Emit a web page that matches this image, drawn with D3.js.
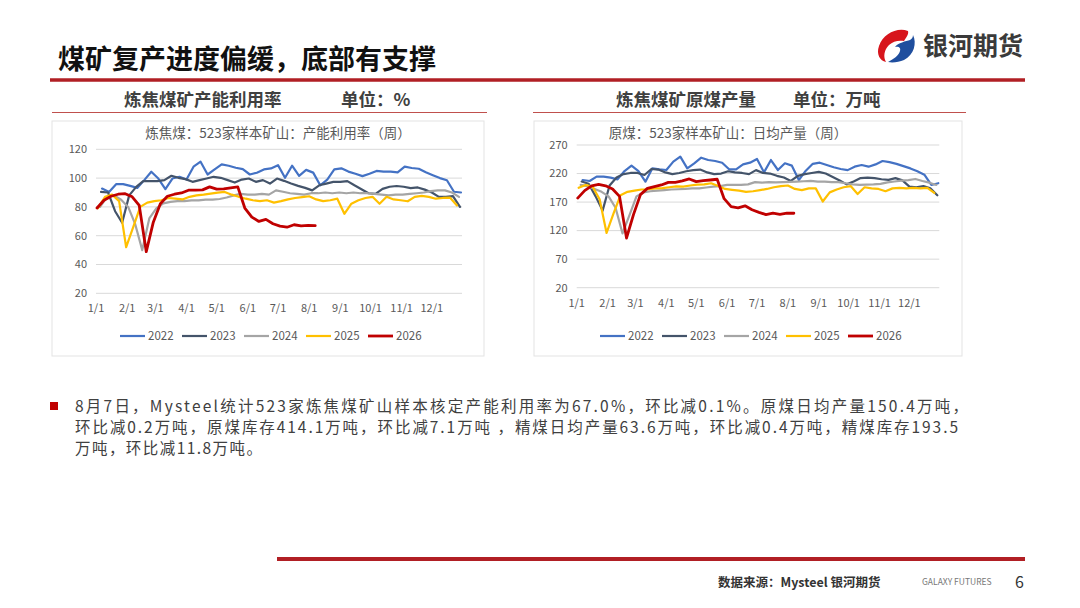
<!DOCTYPE html>
<html>
<head>
<meta charset="utf-8">
<script src="https://cdn.jsdelivr.net/npm/d3@7"></script>
<style>
  body { margin: 0; background: #fff; }
  svg { display: block; font-family: "Noto Sans CJK SC", "Noto Sans", sans-serif; }
</style>
</head>
<body>
<script>
// weekly data, one point per Friday, drawn on a common Jan-Dec axis
var years = ["2022", "2023", "2024", "2025", "2026"];
var firstFriday = ["2022-01-07", "2023-01-06", "2024-01-05", "2025-01-03", "2026-01-02"];
var months = ["1/1","2/1","3/1","4/1","5/1","6/1","7/1","8/1","9/1","10/1","11/1","12/1"];

// 产能利用率 (%)
var util2022 = [92.7,90.4,95.8,95.8,94.6,93.2,98.6,104.4,99.7,92.3,99.7,100.9,99,107.9,111.4,102.5,106,109.5,108.6,107.2,106.2,102.5,103.7,106,106.7,109,100.2,108.6,101.6,105.7,103.8,95,99,106,106.8,104.5,103,101.4,103,105,104.5,104.5,104,108,107,106.5,104,102,100,98.5,90.5,90];
var util2023 = [90.4,90,77,69,88,93.9,97.9,97.9,97.9,98.6,101.6,100.2,99.3,97.4,98.6,99.7,100.9,100.2,98.6,96.9,99,99.7,97.4,98.6,96.2,99.7,98.1,96.2,94.6,93.2,91.5,95,96.2,97.4,97.4,97.9,95,92.3,89.5,89,92.5,94,94.5,94,93,93.5,92,90,87,87,87.5,80];
var util2024 = [80,87,88,85,80,68,50,72,79,82.5,83.5,84,84,84.5,84.5,85,85,85.5,86.5,88,89,88.5,88.5,89,88.5,91.5,90.5,89.5,89,88.5,89.5,89.5,90,89.5,90,89.5,90,89.5,89.5,89,88.5,88,88.5,88.5,89,89.5,90,91,91.5,91.5,90,87];
var util2025 = [79.2,87,88.5,84,52,66,80,83,84,84.6,86.2,85.7,85.2,87,88,88.5,89.2,89.9,90.4,88.5,87,85.7,84.6,84,84.6,83,84,85.2,86.2,86.8,87.4,85.2,84,84.6,85.7,75.2,82.2,84.6,86.2,87,82.2,87,85.2,84.6,83.9,87,87.6,87,85.7,86.2,86.5,81];
var util2026 = [79.2,84.6,87.4,88.8,89.2,87,81,48.9,69.4,82.2,87.4,88.8,89.7,91.6,91.6,91.8,93.9,92.3,92.5,93.2,93.9,79.2,72.9,69.9,71.3,68.3,66.6,65.9,67.6,66.8,67.1,67.0];

// 原煤日均产量 (万吨)
var coal2022 = [208.7,206.9,214.5,214.5,212.8,209.8,224.4,233.8,224.4,205.7,229.1,227.4,226.2,240.8,249.6,229.1,237.9,247.8,243.7,242,239,227.4,227.4,236.1,239,245.5,222.1,243.7,226.2,237.9,233.8,208.7,225,237,239,235,231,228,226,232,235,232,236,242,240,237,233,229,224,218,200,203];
var coal2023 = [206,202,180,155,199,213,219,221,221,217.5,228,227,222,219,221,224,226,227,222,219,220,224,222,221,219,226,221,220,216,213,207,216,219,221,223,220,214,208,201,206,212,213,212,210,209,212,208,197,196,198,194,182];
var coal2024 = [200,198,193,188,180,160,115,147,180,187,189,190,191,192,192.5,193,194,194,195.5,197,198,200,200,200,201,205,204,205,204.5,205,205.5,206,206.5,207,206,206,205,205,203,201,200,200.5,201,202,204.5,206,207.5,208.5,210.5,207,204,200];
var coal2025 = [195,200,197,175,116,150,182,188,190,192,192.5,194,194.5,196,197.5,197,199,200.5,201,203,198,193,191.5,190,188,189,191,193,196,198,199,193,191,194,194,171,187,192,196,198,184,196,194,193,189,194,195,194,195,194,195,186];
var coal2026 = [177,190,198.5,201,198.5,193,180,107,148,183,194,197,200,204.5,204.6,207,210.5,205.8,207.5,208.7,210,176,162,160,163.5,156.5,152,148,150.5,148.6,150.6,150.4];

var utilTicks = [20, 40, 60, 80, 100, 120];
var coalTicks = [20, 70, 120, 170, 220, 270];

var colors = ["#4472C4", "#44546A", "#A5A5A5", "#FFC000", "#C00000"];
var widths = [2.2, 2.2, 2.2, 2.2, 2.8];

var W = 1080, H = 608;
var svg = d3.select("body").append("svg").attr("width", W).attr("height", H);
svg.append("rect").attr("width", W).attr("height", H).attr("fill", "#fff");

// ---- header
svg.append("text").attr("x", 58).attr("y", 69)
  .attr("font-size", 27).attr("font-weight", 700).attr("fill", "#111")
  .text("煤矿复产进度偏缓，底部有支撑");
svg.append("line").attr("x1", 50).attr("x2", 1025).attr("y1", 80).attr("y2", 80)
  .attr("stroke", "#B11F24").attr("stroke-width", 3.5);

// logo
var logo = svg.append("g").attr("transform", "translate(877,28)");
logo.append("path").attr("fill", "#D7151C")
  .attr("d", "M31,3 C20,-1 6,6 2,18 C-1,26 3,33 9,34 C6,29 7,22 12,17 C16,13 22,12 27,13 C29,10 32,6 31,3 Z");
logo.append("path").attr("fill", "#1F4E9E")
  .attr("d", "M36,7 C40,15 37,27 27,32 C22,34 16,35 11,34 C17,31 22,27 23,23 C24,20 22,18 18,19 C21,15 29,13 33,12 C35,11 36,9 36,7 Z");
svg.append("text").attr("x", 923).attr("y", 55)
  .attr("font-size", 25).attr("font-weight", 700).attr("fill", "#3a3a3a")
  .text("银河期货");

// sub titles
function subTitle(x1, x2, a, ax, b, bx) {
  svg.append("text").attr("x", ax).attr("y", 106).attr("font-size", 17.5)
    .attr("font-weight", 700).attr("fill", "#404040").text(a);
  svg.append("text").attr("x", bx).attr("y", 106).attr("font-size", 17.5)
    .attr("font-weight", 700).attr("fill", "#404040").text(b);
  svg.append("line").attr("x1", x1).attr("x2", x2).attr("y1", 112.5).attr("y2", 112.5)
    .attr("stroke", "#C0504D").attr("stroke-width", 1.2);
}
subTitle(52, 487, "炼焦煤矿产能利用率", 124, "单位：%", 341);
subTitle(533, 966, "炼焦煤矿原煤产量", 616, "单位：万吨", 793);

// ---- charts
var parseDay = d3.timeParse("%Y-%m-%d");
var base = new Date(2026, 0, 1);

function drawChart(cfg) {
  var g = svg.append("g");
  g.append("rect").attr("x", cfg.box[0]).attr("y", cfg.box[1])
    .attr("width", cfg.box[2] - cfg.box[0]).attr("height", cfg.box[3] - cfg.box[1])
    .attr("fill", "#fff").attr("stroke", "#e3e3e3").attr("stroke-width", 1);

  var x = d3.scaleTime().domain([base, new Date(2026, 11, 31)]).range([cfg.left, cfg.right]);
  var y = d3.scaleLinear().domain(d3.extent(cfg.ticks)).range([cfg.bottom, cfg.top]);

  g.append("text").attr("x", cfg.titleX).attr("y", 133).attr("dy", "0.35em")
    .attr("text-anchor", "middle").attr("font-size", 13.5).attr("fill", "#595959")
    .text(cfg.title);

  g.selectAll(".grid").data(cfg.ticks).join("line")
    .attr("x1", cfg.left).attr("x2", cfg.right)
    .attr("y1", function(d){ return y(d); }).attr("y2", function(d){ return y(d); })
    .attr("stroke", "#d9d9d9").attr("stroke-width", 1);

  g.selectAll(".yl").data(cfg.ticks).join("text")
    .attr("x", cfg.left - 9).attr("y", function(d){ return y(d); }).attr("dy", "0.35em")
    .attr("text-anchor", "end").attr("font-size", 11).attr("fill", "#595959")
    .text(function(d){ return d; });

  g.selectAll(".xl").data(months).join("text")
    .attr("x", function(d, i){ return x(new Date(2026, i, 1)); })
    .attr("y", cfg.bottom + 15).attr("dy", "0.35em")
    .attr("text-anchor", "middle").attr("font-size", 11).attr("fill", "#595959")
    .text(function(d){ return d; });

  var line = d3.line()
    .x(function(d){ return x(d.date); })
    .y(function(d){ return y(d.v); });

  cfg.series.forEach(function(vals, s) {
    var f = parseDay(firstFriday[s]);
    var doy = d3.timeDay.count(d3.timeYear(f), f);
    var pts = vals.map(function(v, k){ return { date: d3.timeDay.offset(base, doy + 7 * k), v: v }; });
    g.append("path").datum(pts).attr("d", line)
      .attr("fill", "none").attr("stroke", colors[s]).attr("stroke-width", widths[s])
      .attr("stroke-linejoin", "round").attr("stroke-linecap", "round");
  });

  // legend
  years.forEach(function(yr, s) {
    var lx = cfg.legendX + s * 62;
    g.append("line").attr("x1", lx).attr("x2", lx + 25)
      .attr("y1", cfg.legendY).attr("y2", cfg.legendY)
      .attr("stroke", colors[s]).attr("stroke-width", widths[s]);
    g.append("text").attr("x", lx + 28).attr("y", cfg.legendY).attr("dy", "0.35em")
      .attr("font-size", 11.5).attr("fill", "#595959").text(yr);
  });
}

drawChart({
  box: [52, 121, 484, 356], left: 96, right: 462, top: 149.3, bottom: 293.3,
  ticks: utilTicks, title: "炼焦煤：523家样本矿山：产能利用率（周）", titleX: 278,
  series: [util2022, util2023, util2024, util2025, util2026],
  legendX: 120, legendY: 336
});
drawChart({
  box: [534, 121, 962, 356], left: 576.7, right: 939.3, top: 145, bottom: 287.7,
  ticks: coalTicks, title: "原煤：523家样本矿山：日均产量（周）", titleX: 728,
  series: [coal2022, coal2023, coal2024, coal2025, coal2026],
  legendX: 600, legendY: 336
});

// ---- comment text
svg.append("rect").attr("x", 50).attr("y", 402).attr("width", 8).attr("height", 8).attr("fill", "#C00000");
var para = [
  { t: "8月7日，Mysteel统计523家炼焦煤矿山样本核定产能利用率为67.0%，环比减0.1%。原煤日均产量150.4万吨，", w: 893 },
  { t: "环比减0.2万吨，原煤库存414.1万吨，环比减7.1万吨 ，精煤日均产量63.6万吨，环比减0.4万吨，精煤库存193.5", w: 883 },
  { t: "万吨，环比减11.8万吨。", w: 187 }
];
para.forEach(function(p, i) {
  var t = svg.append("text").attr("x", 75).attr("y", 412 + i * 21)
    .attr("font-size", 15.5).attr("fill", "#404040").text(p.t);
  if (p.w) t.attr("textLength", p.w).attr("lengthAdjust", "spacing");
});

// ---- footer
svg.append("line").attr("x1", 277).attr("x2", 1025).attr("y1", 559).attr("y2", 559)
  .attr("stroke", "#B11F24").attr("stroke-width", 4);
svg.append("text").attr("x", 718).attr("y", 587).attr("font-size", 12.5)
  .attr("font-weight", 700).attr("fill", "#333").text("数据来源：Mysteel 银河期货");
svg.append("text").attr("x", 922).attr("y", 585).attr("font-size", 8.5)
  .attr("fill", "#777").text("GALAXY FUTURES");
svg.append("text").attr("x", 1015).attr("y", 588).attr("font-size", 16)
  .attr("fill", "#333").text("6");
</script>
</body>
</html>
